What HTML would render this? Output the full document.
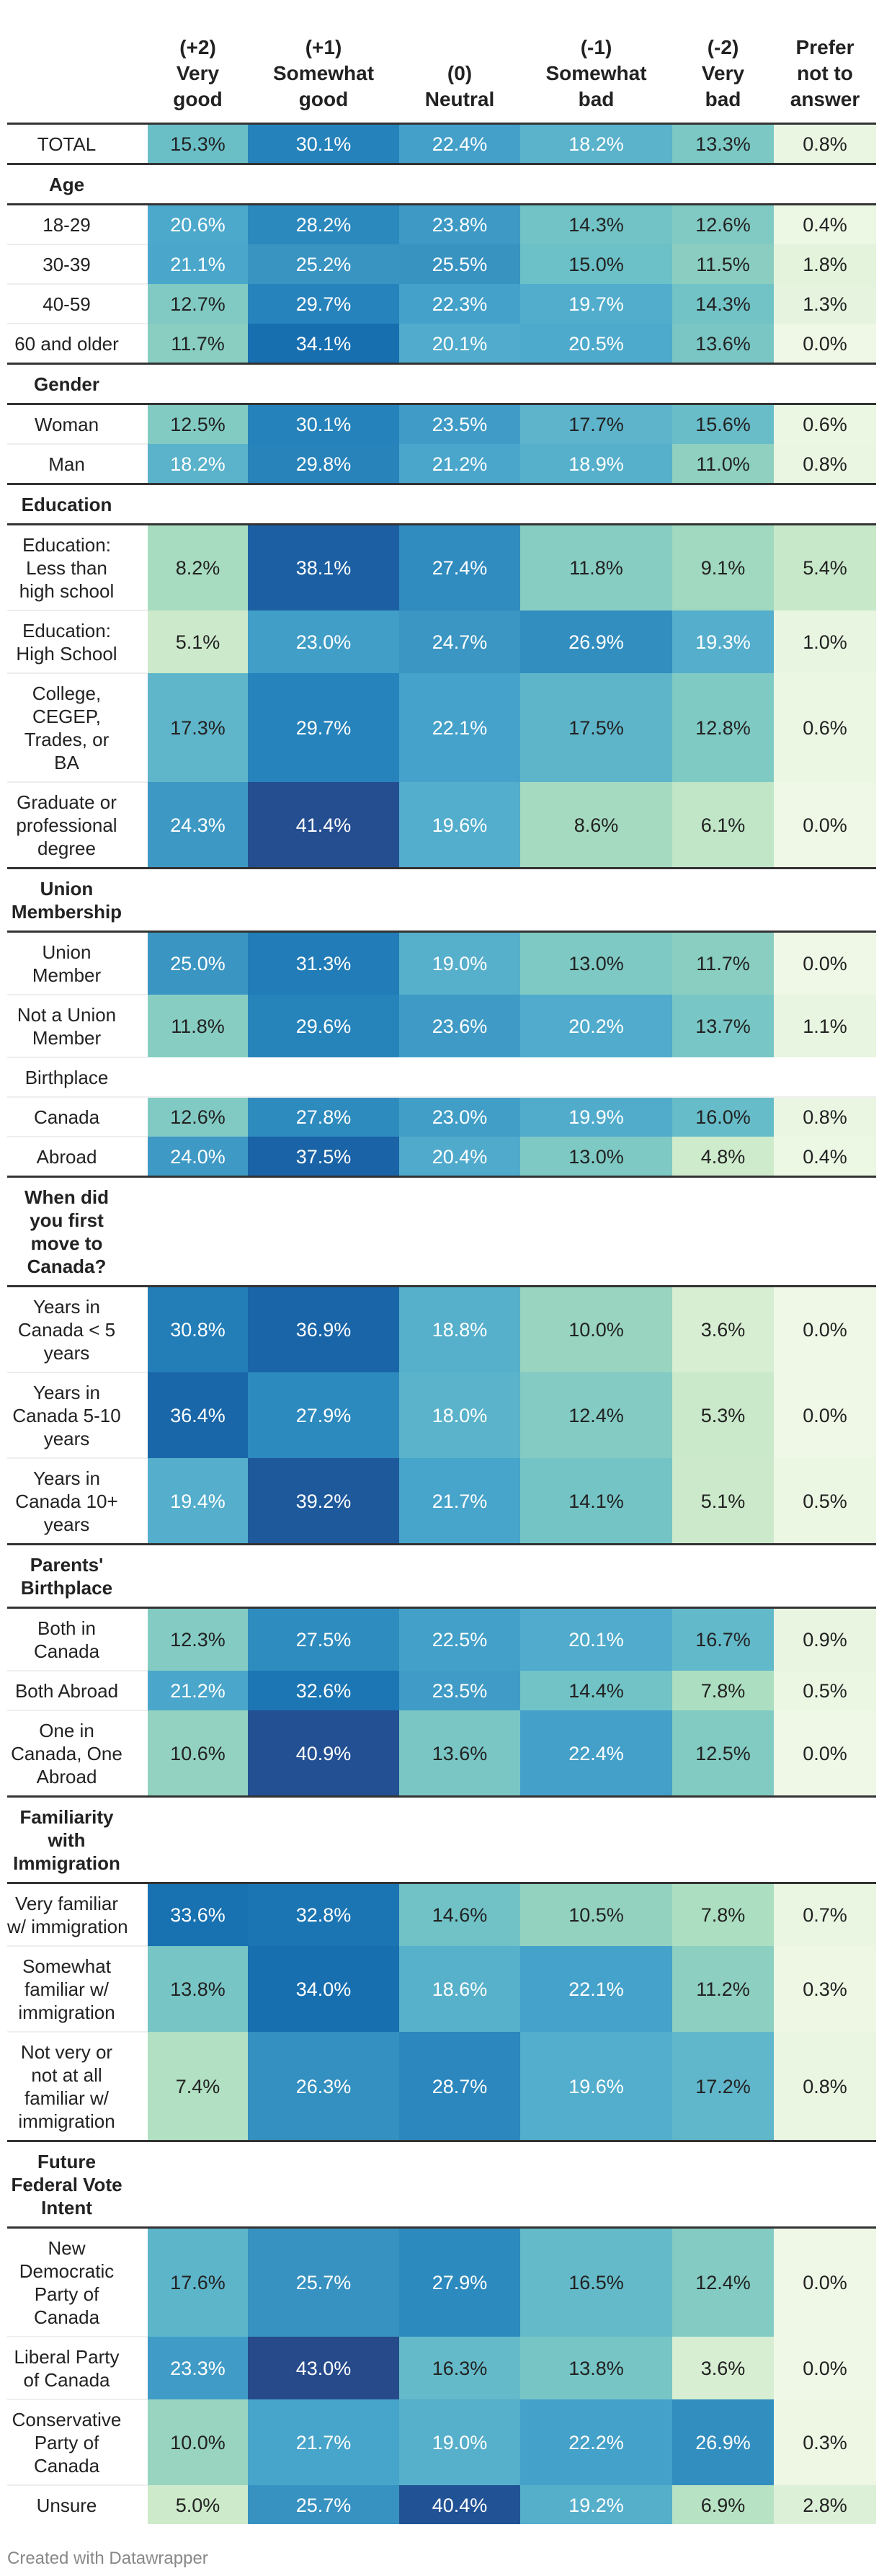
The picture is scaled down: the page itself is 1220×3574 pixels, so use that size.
<!DOCTYPE html>
<html><head><meta charset="utf-8">
<style>
body{margin:0;background:#fff;width:1220px;height:3574px;overflow:hidden;font-family:"Liberation Sans",sans-serif;}
table{position:absolute;left:10px;top:0;border-collapse:collapse;table-layout:fixed;width:1206px;}
th{font-weight:bold;font-size:28px;line-height:36px;color:#222;vertical-align:bottom;padding:0 0 14px 0;height:156px;text-align:center;border-bottom:3px solid #333;}
td{font-size:27px;line-height:32px;text-align:center;padding:11px 0 10px 0;color:#222;}
td.lbl{padding-right:30px;padding-left:0;font-size:26px;white-space:nowrap;}
tr.grp td.lbl{font-weight:bold;}
#footer{position:absolute;left:10px;top:3536px;font-size:24px;color:#888;}
</style></head><body>
<table id="tbl">
<colgroup><col style="width:195px"><col style="width:139px"><col style="width:210px"><col style="width:168px"><col style="width:211px"><col style="width:141px"><col style="width:142px"></colgroup>
<thead><tr>
<th></th>
<th>(+2)<br>Very<br>good</th>
<th>(+1)<br>Somewhat<br>good</th>
<th>(0)<br>Neutral</th>
<th>(-1)<br>Somewhat<br>bad</th>
<th>(-2)<br>Very<br>bad</th>
<th>Prefer<br>not to<br>answer</th>
</tr></thead>
<tbody id="body"></tbody>
</table>
<div id="footer">Created with Datawrapper</div>
<script>
// row labels (type: g = group header, p = plain label row, r = data row)
const labels=["TOTAL","Age","18-29","30-39","40-59","60 and older","Gender","Woman","Man","Education","Education:<br>Less than<br>high school","Education:<br>High School","College,<br>CEGEP,<br>Trades, or<br>BA","Graduate or<br>professional<br>degree","Union<br>Membership","Union<br>Member","Not a Union<br>Member","Birthplace","Canada","Abroad","When did<br>you first<br>move to<br>Canada?","Years in<br>Canada &lt; 5<br>years","Years in<br>Canada 5-10<br>years","Years in<br>Canada 10+<br>years","Parents'<br>Birthplace","Both in<br>Canada","Both Abroad","One in<br>Canada, One<br>Abroad","Familiarity<br>with<br>Immigration","Very familiar<br>w/ immigration","Somewhat<br>familiar w/<br>immigration","Not very or<br>not at all<br>familiar w/<br>immigration","Future<br>Federal Vote<br>Intent","New<br>Democratic<br>Party of<br>Canada","Liberal Party<br>of Canada","Conservative<br>Party of<br>Canada","Unsure"];
const types=["r","g","r","r","r","r","g","r","r","g","r","r","r","r","g","r","r","p","r","r","g","r","r","r","g","r","r","r","g","r","r","r","g","r","r","r","r"];
const veryGood=[15.3,null,20.6,21.1,12.7,11.7,null,12.5,18.2,null,8.2,5.1,17.3,24.3,null,25.0,11.8,null,12.6,24.0,null,30.8,36.4,19.4,null,12.3,21.2,10.6,null,33.6,13.8,7.4,null,17.6,23.3,10.0,5.0];
const somewhatGood=[30.1,null,28.2,25.2,29.7,34.1,null,30.1,29.8,null,38.1,23.0,29.7,41.4,null,31.3,29.6,null,27.8,37.5,null,36.9,27.9,39.2,null,27.5,32.6,40.9,null,32.8,34.0,26.3,null,25.7,43.0,21.7,25.7];
const neutral=[22.4,null,23.8,25.5,22.3,20.1,null,23.5,21.2,null,27.4,24.7,22.1,19.6,null,19.0,23.6,null,23.0,20.4,null,18.8,18.0,21.7,null,22.5,23.5,13.6,null,14.6,18.6,28.7,null,27.9,16.3,19.0,40.4];
const somewhatBad=[18.2,null,14.3,15.0,19.7,20.5,null,17.7,18.9,null,11.8,26.9,17.5,8.6,null,13.0,20.2,null,19.9,13.0,null,10.0,12.4,14.1,null,20.1,14.4,22.4,null,10.5,22.1,19.6,null,16.5,13.8,22.2,19.2];
const veryBad=[13.3,null,12.6,11.5,14.3,13.6,null,15.6,11.0,null,9.1,19.3,12.8,6.1,null,11.7,13.7,null,16.0,4.8,null,3.6,5.3,5.1,null,16.7,7.8,12.5,null,7.8,11.2,17.2,null,12.4,3.6,26.9,6.9];
const preferNot=[0.8,null,0.4,1.8,1.3,0.0,null,0.6,0.8,null,5.4,1.0,0.6,0.0,null,0.0,1.1,null,0.8,0.4,null,0.0,0.0,0.5,null,0.9,0.5,0.0,null,0.7,0.3,0.8,null,0.0,0.0,0.3,2.8];
const series=[veryGood,somewhatGood,neutral,somewhatBad,veryBad,preferNot];
const colNames=["very-good","somewhat-good","neutral","somewhat-bad","very-bad","prefer-not"];

const stops=[[0,[239,248,230]],[5,[205,234,203]],[8,[170,221,192]],[11,[143,208,192]],[13,[126,201,196]],[15,[108,192,199]],[18,[91,179,203]],[20.5,[78,170,204]],[22,[69,162,202]],[25,[58,149,194]],[28,[45,138,190]],[30,[38,130,186]],[34,[23,111,176]],[37.5,[26,99,166]],[41,[35,79,146]],[43,[38,74,138]]];
function colorScale(v){
  if(v<=stops[0][0])return 'rgb('+stops[0][1].join(',')+')';
  for(let i=1;i<stops.length;i++){
    if(v<=stops[i][0]){const a=stops[i-1],b=stops[i];const t=(v-a[0])/(b[0]-a[0]);
      return 'rgb('+a[1].map((c,k)=>Math.round(c+(b[1][k]-c)*t)).join(',')+')';}
  }
  return 'rgb('+stops[stops.length-1][1].join(',')+')';
}
const body=document.getElementById('body');
for(let i=0;i<labels.length;i++){
  const tr=document.createElement('tr');
  
  
  if(types[i]==='g')tr.className='grp';
  let bb='2px solid #eee';
  if(i===labels.length-1)bb='none';
  else if(types[i]==='g'||types[i+1]==='g'||i===0)bb='3px solid #333';
  const lt=document.createElement('td');
  lt.className='lbl';
  lt.innerHTML=labels[i];
  
  
  lt.style.borderBottom=bb;
  tr.appendChild(lt);
  for(let c=0;c<series.length;c++){
    const td=document.createElement('td');
    
    
    td.style.borderBottom=bb;
    const v=series[c][i];
    if(v!==null&&v!==undefined){
      td.textContent=v.toFixed(1)+'%';
      td.style.background=colorScale(v);
      td.style.color=v>=18?'#fff':'#222';
      if(bb.indexOf('#eee')>=0)td.style.borderBottom='2px solid rgba(255,255,255,0.0)';
    }
    tr.appendChild(td);
  }
  body.appendChild(tr);
}
</script>
</body></html>
